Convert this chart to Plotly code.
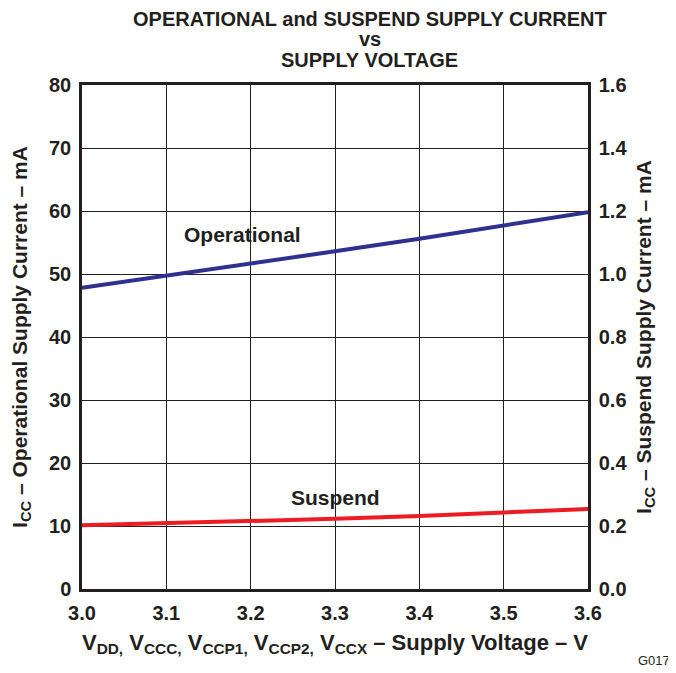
import plotly.graph_objects as go

FONT = "Liberation Sans, Arial, sans-serif"
INK = "#231f20"

# supply voltage (V) and the two measured currents
voltage = [3.0, 3.1, 3.2, 3.3, 3.4, 3.5, 3.6]
operational_ma = [47.8, 49.7, 51.7, 53.6, 55.6, 57.7, 59.8]
suspend_ma = [0.202, 0.208, 0.215, 0.223, 0.232, 0.242, 0.254]

title_lines = ["OPERATIONAL and SUSPEND SUPPLY CURRENT", "vs", "SUPPLY VOLTAGE"]

fig = go.Figure()
fig.add_trace(go.Scatter(x=voltage, y=operational_ma, mode="lines",
                         line=dict(color="#2e3192", width=4), name="Operational"))
fig.add_trace(go.Scatter(x=voltage, y=suspend_ma, mode="lines", yaxis="y2",
                         line=dict(color="#ed1c24", width=4), name="Suspend"))

axis_common = dict(
    showline=True, linecolor=INK, linewidth=2.5,
    showgrid=True, gridcolor=INK, gridwidth=1,
    zeroline=False, ticks="", ticklabelstandoff=4, automargin=False,
    tickfont=dict(family=FONT, size=20, color=INK, weight="bold"),
)
title_font = dict(family=FONT, size=21, color=INK)

# page body adds an 8px offset, so the figure is drawn 8px smaller
fig.update_layout(
    width=668, height=665,
    paper_bgcolor="white", plot_bgcolor="white",
    margin=dict(l=74, r=88, t=77, b=84),
    showlegend=False,
    font=dict(family=FONT, color=INK),
    xaxis=dict(
        range=[3.0, 3.6], dtick=0.1, tickformat=".1f", mirror=True,
        title=dict(
            text="<b>V<sub>DD,</sub> V<sub>CCC,</sub> V<sub>CCP1,</sub> V<sub>CCP2,</sub> V<sub>CCX</sub> – Supply Voltage – V</b>",
            font=dict(family=FONT, size=22, color=INK), standoff=12,
        ),
        **axis_common,
    ),
    yaxis=dict(
        range=[0, 80], dtick=10,
        title=dict(text="<b>I<sub>CC</sub> – Operational Supply Current – mA</b>",
                   font=title_font, standoff=22),
        **axis_common,
    ),
    yaxis2=dict(
        range=[0, 1.6], dtick=0.2, tickformat=".1f", overlaying="y", side="right",
        title=dict(text="<b>I<sub>CC</sub> – Suspend Supply Current – mA</b>",
                   font=title_font, standoff=10),
        **axis_common,
    ),
)

for line, ypos in zip(title_lines, [1.131, 1.091, 1.050]):
    fig.add_annotation(xref="paper", yref="paper", x=0.569, y=ypos, yanchor="middle",
                       text=f"<b>{line}</b>", showarrow=False,
                       font=dict(family=FONT, size=20, color=INK))

fig.add_annotation(x=3.19, y=56.2, text="<b>Operational</b>", showarrow=False,
                   font=dict(family=FONT, size=21, color=INK))
fig.add_annotation(x=3.30, y=14.6, text="<b>Suspend</b>", showarrow=False,
                   font=dict(family=FONT, size=21, color=INK))
fig.add_annotation(xref="paper", yref="paper", x=1.166, y=-0.141, xanchor="right",
                   yanchor="middle", text="G017", showarrow=False,
                   font=dict(family=FONT, size=13, color=INK))

fig.write_html("out.html")
